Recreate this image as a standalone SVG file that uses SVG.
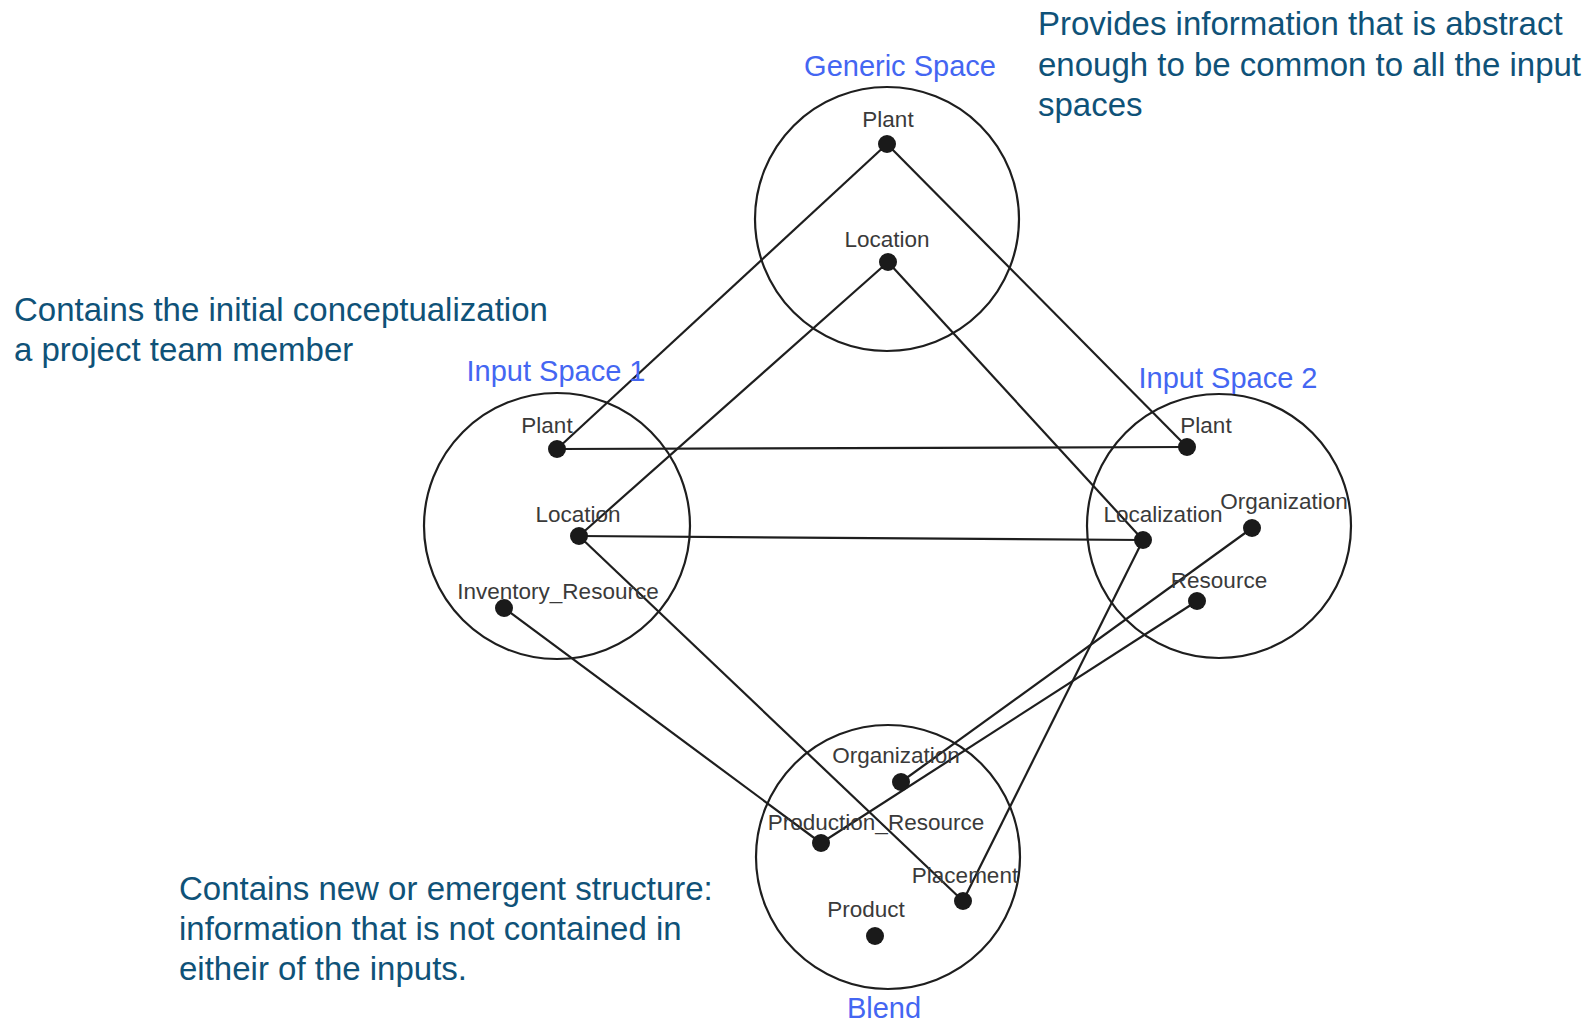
<svg xmlns="http://www.w3.org/2000/svg" width="1590" height="1024" viewBox="0 0 1590 1024">
<style>
.bg{fill:#ffffff}
.space{fill:none;stroke:#1e1e1e;stroke-width:2.2}
.edge{stroke:#1e1e1e;stroke-width:2.2;fill:none}
.dot{fill:#1a1a1a}
.lbl{font-family:"Liberation Sans",Arial,sans-serif;font-size:22.5px;fill:#3a3a3a;text-anchor:middle}
.title{font-family:"Liberation Sans",Arial,sans-serif;font-size:29px;fill:#4466f2;text-anchor:middle}
.note{font-family:"Liberation Sans",Arial,sans-serif;font-size:33px;fill:#0f5278}
</style>
<rect class="bg" x="0" y="0" width="1590" height="1024"/>
<g id="connectors">
<line class="edge" x1="887" y1="144" x2="557" y2="449"/>
<line class="edge" x1="887" y1="144" x2="1187" y2="447"/>
<line class="edge" x1="888" y1="262" x2="579" y2="536"/>
<line class="edge" x1="888" y1="262" x2="1143" y2="540"/>
<line class="edge" x1="557" y1="449" x2="1187" y2="447"/>
<line class="edge" x1="579" y1="536" x2="1143" y2="540"/>
<line class="edge" x1="504" y1="608" x2="821" y2="843"/>
<line class="edge" x1="579" y1="536" x2="963" y2="901"/>
<line class="edge" x1="1143" y1="540" x2="963" y2="901"/>
<line class="edge" x1="1252" y1="528" x2="901" y2="782"/>
<line class="edge" x1="1197" y1="601" x2="821" y2="843"/>
</g>
<g id="generic-space">
<circle class="space" cx="887" cy="219" r="132"/>
<text class="title" x="900" y="76">Generic Space</text>
<text class="lbl" x="888" y="127">Plant</text>
<circle class="dot" cx="887" cy="144" r="9"/>
<text class="lbl" x="887" y="247">Location</text>
<circle class="dot" cx="888" cy="262" r="9"/>
</g>
<g id="input-space-1">
<circle class="space" cx="557" cy="526" r="133"/>
<text class="title" x="556" y="381">Input Space 1</text>
<text class="lbl" x="547" y="433">Plant</text>
<circle class="dot" cx="557" cy="449" r="9"/>
<text class="lbl" x="578" y="522">Location</text>
<circle class="dot" cx="579" cy="536" r="9"/>
<text class="lbl" x="558" y="599">Inventory_Resource</text>
<circle class="dot" cx="504" cy="608" r="9"/>
</g>
<g id="input-space-2">
<circle class="space" cx="1219" cy="526" r="132"/>
<text class="title" x="1228" y="388">Input Space 2</text>
<text class="lbl" x="1206" y="433">Plant</text>
<circle class="dot" cx="1187" cy="447" r="9"/>
<text class="lbl" x="1163" y="522">Localization</text>
<circle class="dot" cx="1143" cy="540" r="9"/>
<text class="lbl" x="1284" y="509">Organization</text>
<circle class="dot" cx="1252" cy="528" r="9"/>
<text class="lbl" x="1219" y="588">Resource</text>
<circle class="dot" cx="1197" cy="601" r="9"/>
</g>
<g id="blend">
<circle class="space" cx="888" cy="857" r="132"/>
<text class="title" x="884" y="1018">Blend</text>
<text class="lbl" x="896" y="763">Organization</text>
<circle class="dot" cx="901" cy="782" r="9"/>
<text class="lbl" x="876" y="830">Production_Resource</text>
<circle class="dot" cx="821" cy="843" r="9"/>
<text class="lbl" x="965" y="883">Placement</text>
<circle class="dot" cx="963" cy="901" r="9"/>
<text class="lbl" x="866" y="917">Product</text>
<circle class="dot" cx="875" cy="936" r="9"/>
</g>
<g id="note-generic">
<text class="note" x="1038" y="35">Provides information that is abstract</text>
<text class="note" x="1038" y="76">enough to be common to all the input</text>
<text class="note" x="1038" y="116">spaces</text>
</g>
<g id="note-input">
<text class="note" x="14" y="321">Contains the initial conceptualization</text>
<text class="note" x="14" y="361">a project team member</text>
</g>
<g id="note-blend">
<text class="note" x="179" y="900">Contains new or emergent structure:</text>
<text class="note" x="179" y="940">information that is not contained in</text>
<text class="note" x="179" y="980">eitheir of the inputs.</text>
</g>
</svg>
